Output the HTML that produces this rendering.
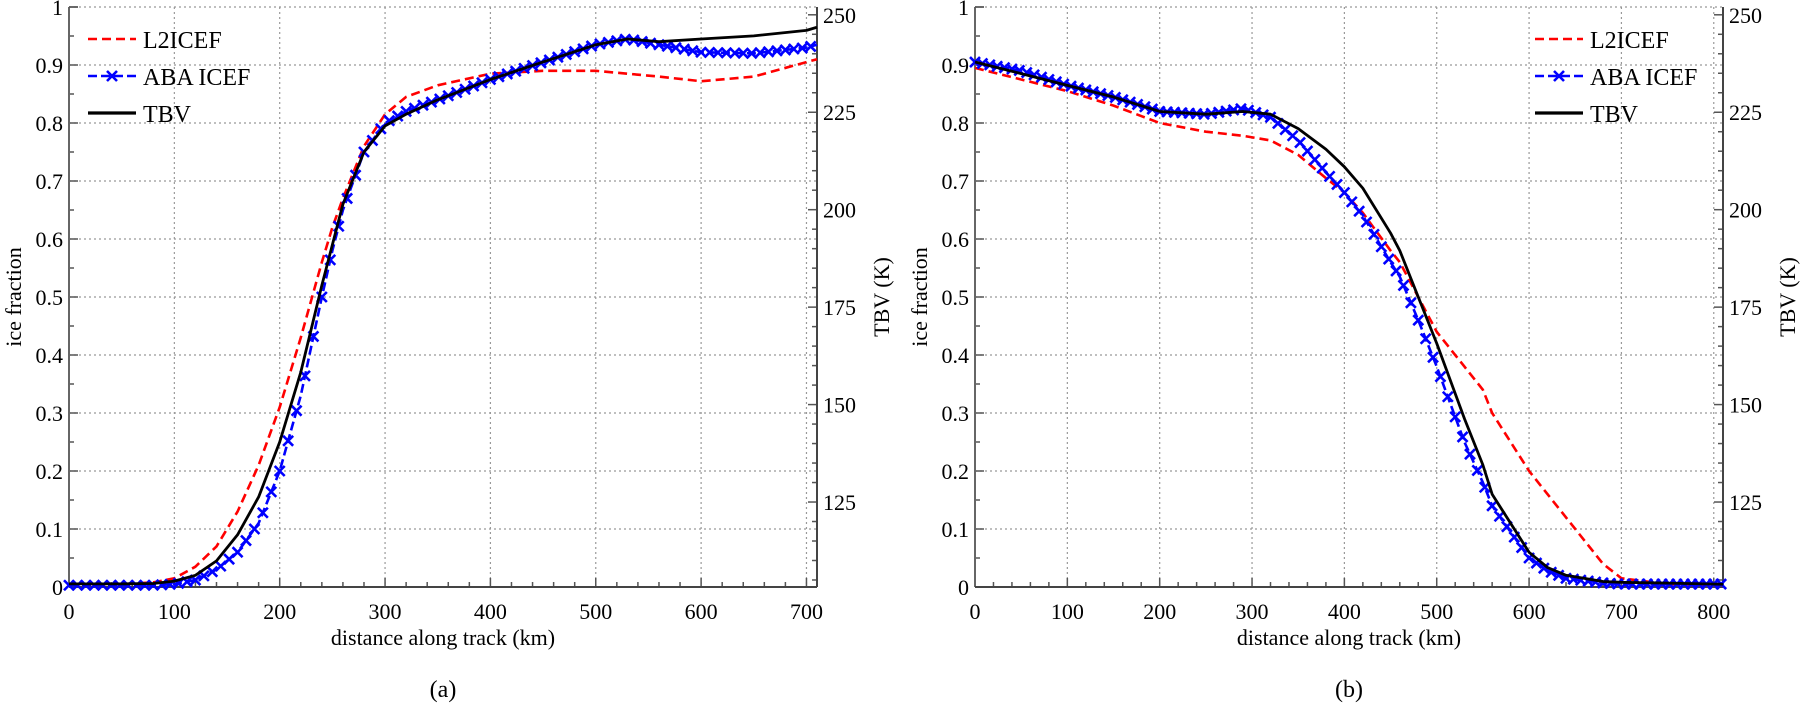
<!DOCTYPE html>
<html><head><meta charset="utf-8"><style>
html,body{margin:0;padding:0;background:#fff;}
svg{display:block;font-family:"Liberation Serif",serif;}
</style></head><body>
<svg id="fig" width="1800" height="710" viewBox="0 0 1800 710"></svg>
<script>
// ---- Data: panel (a)
const aDist = [0,50,80,100,120,140,160,180,200,220,240,250,260,280,300,320,350,400,450,500,530,560,600,650,700,710];
const aL2 =   [0.005,0.005,0.008,0.015,0.035,0.07,0.13,0.21,0.31,0.43,0.56,0.62,0.67,0.76,0.815,0.845,0.865,0.885,0.89,0.89,0.885,0.88,0.872,0.88,0.905,0.91];
const aABA =  [0.003,0.003,0.003,0.005,0.012,0.03,0.06,0.11,0.2,0.33,0.5,0.58,0.65,0.75,0.8,0.82,0.84,0.875,0.905,0.935,0.945,0.935,0.922,0.92,0.93,0.935];
const aTBV =  [104,104,104.1,104.7,106.2,109.9,116.6,126.3,140.4,158.3,180.6,191,201.4,214.8,221.5,224.5,228.2,233.4,237.9,242.3,243.8,243.1,243.8,244.6,246.0,246.8];
// ---- Data: panel (b)
const bDist = [0,50,100,150,200,250,290,320,350,380,400,420,450,460,480,500,530,550,560,600,620,640,680,700,750,810];
const bL2 =   [0.895,0.875,0.855,0.83,0.8,0.785,0.778,0.77,0.745,0.705,0.68,0.645,0.58,0.56,0.5,0.44,0.38,0.34,0.3,0.2,0.16,0.12,0.04,0.015,0.005,0.003];
const bABA =  [0.905,0.89,0.865,0.845,0.82,0.815,0.825,0.81,0.77,0.715,0.68,0.64,0.56,0.535,0.46,0.38,0.25,0.18,0.14,0.05,0.028,0.015,0.007,0.005,0.005,0.005];
const bTBV =  [237.9,234.9,231.9,228.9,225.2,224.5,225.2,224.5,220.8,215.5,211.0,205.5,194.0,189.5,177.6,165.7,146.4,134.5,127.0,112.1,108.2,106.2,104.6,104.4,104.2,103.9];
// ---- Tick labels
const yTicks = [0,0.1,0.2,0.3,0.4,0.5,0.6,0.7,0.8,0.9,1];
const yTickLabels = ["0","0.1","0.2","0.3","0.4","0.5","0.6","0.7","0.8","0.9","1"];
const tbvTicks = [125,150,175,200,225,250];
const aXTicks = [0,100,200,300,400,500,600,700];
const bXTicks = [0,100,200,300,400,500,600,700,800];

const NS="http://www.w3.org/2000/svg";
const svg=document.getElementById('fig');
function mk(tag,attrs,parent){const e=document.createElementNS(NS,tag);for(const k in attrs)e.setAttribute(k,attrs[k]);(parent||svg).appendChild(e);return e;}

function panel(cfg){
  const {x0,x1,y0,y1,xmax,tmin,tmax,dist,l2,aba,tbv,xt,tag,legX,legY} = cfg;
  const g=mk('g',{});
  
  
  const sx=v=>x0+v/xmax*(x1-x0);
  const sy=v=>y1-v*(y1-y0);
  const st=v=>y1-(v-tmin)/(tmax-tmin)*(y1-y0);
  xt.forEach(v=>{ if(v>0) mk('line',{x1:sx(v),x2:sx(v),y1:y0,y2:y1,stroke:'#999','stroke-width':1.2,'stroke-dasharray':'2,3'},g);});
  yTicks.forEach(v=>{ if(v>0) mk('line',{x1:x0,x2:x1,y1:sy(v),y2:sy(v),stroke:'#999','stroke-width':1.2,'stroke-dasharray':'2,3'},g);});
  for(let v=0;v<=xmax;v+=20){const maj=v%100===0;
    mk('line',{x1:sx(v),x2:sx(v),y1:y1,y2:y1-(maj?9:5),stroke:'#555','stroke-width':1.5},g);}
  for(let i=0;i<=20;i++){const v=i*0.05;const maj=i%2===0;
    mk('line',{x1:x0,x2:x0+(maj?9:5),y1:sy(v),y2:sy(v),stroke:'#555','stroke-width':1.5},g);}
  for(let v=105;v<=tmax;v+=5){const maj=v%25===0;
    mk('line',{x1:x1,x2:x1-(maj?9:5),y1:st(v),y2:st(v),stroke:'#555','stroke-width':1.5},g);}
  mk('line',{x1:x0,x2:x0,y1:y0,y2:y1,stroke:'#666','stroke-width':2},g);
  mk('line',{x1:x1,x2:x1,y1:y0,y2:y1,stroke:'#444','stroke-width':2},g);
  mk('line',{x1:x0,x2:x1,y1:y1,y2:y1,stroke:'#444','stroke-width':2},g);
  mk('line',{x1:x0,x2:x0+9,y1:y0,y2:y0,stroke:'#555','stroke-width':1.5},g);
  xt.forEach(v=>{const t=mk('text',{x:sx(v),y:y1+32,'text-anchor':'middle','font-size':22},g);t.textContent=v;
    });
  yTicks.forEach((v,i)=>{const t=mk('text',{x:x0-6,y:sy(v)+8,'text-anchor':'end','font-size':22},g);t.textContent=yTickLabels[i];
    });
  tbvTicks.forEach(v=>{const t=mk('text',{x:x1+6,y:st(v)+8,'text-anchor':'start','font-size':22},g);t.textContent=v;
    });
  let t=mk('text',{x:(x0+x1)/2,y:y1+58,'text-anchor':'middle','font-size':22},g);t.textContent='distance along track (km)';
  
  t=mk('text',{transform:`translate(${x0-48},${(y0+y1)/2}) rotate(-90)`,'text-anchor':'middle','font-size':22},g);t.textContent='ice fraction';
  
  t=mk('text',{transform:`translate(${x1+72},${(y0+y1)/2}) rotate(-90)`,'text-anchor':'middle','font-size':22},g);t.textContent='TBV (K)';
  
  t=mk('text',{x:(x0+x1)/2,y:y1+110,'text-anchor':'middle','font-size':24},g);t.textContent='('+tag+')';
  
  const pts=(arr,f)=>dist.map((d,i)=>sx(d)+','+f(arr[i])).join(' ');
  let p=mk('polyline',{points:pts(l2,sy),fill:'none',stroke:'#ff0000','stroke-width':2.6,'stroke-dasharray':'9,5','stroke-linejoin':'round'},g);
  
  p=mk('polyline',{points:pts(aba,sy),fill:'none',stroke:'#0000ff','stroke-width':2.6,'stroke-dasharray':'9,4','stroke-linejoin':'round'},g);
  
  for(let d=0;d<=dist[dist.length-1];d+=8){
    let j=0;while(j<dist.length-2&&dist[j+1]<d)j++;
    const f=(d-dist[j])/(dist[j+1]-dist[j]);const v=aba[j]+f*(aba[j+1]-aba[j]);
    const cx=sx(d),cy=sy(v),r=5;
    const m=mk('path',{d:`M${cx-r},${cy-r}L${cx+r},${cy+r}M${cx-r},${cy+r}L${cx+r},${cy-r}`,stroke:'#0000ff','stroke-width':2.6},g);
    
  }
  p=mk('polyline',{points:pts(tbv,st),fill:'none',stroke:'#000','stroke-width':2.8,'stroke-linejoin':'round'},g);
  
  const lg=mk('g',{},g);
  
  const ent=[['L2ICEF','#ff0000','9,5'],['ABA ICEF','#0000ff','9,4'],['TBV','#000','']];
  const ys=[legY,legY+37,legY+74];
  ent.forEach((e,i)=>{
    const ge=mk('g',{},lg);
    
    const a={x1:legX,x2:legX+48,y1:ys[i],y2:ys[i],stroke:e[1],'stroke-width':e[2]?2.6:3.2};
    if(e[2])a['stroke-dasharray']=e[2];
    mk('line',a,ge);
    if(i===1){const cx=legX+24,cy=ys[i],r=5;mk('path',{d:`M${cx-r},${cy-r}L${cx+r},${cy+r}M${cx-r},${cy+r}L${cx+r},${cy-r}`,stroke:'#0000ff','stroke-width':2.6},ge);}
    const tx=mk('text',{x:legX+55,y:ys[i]+9,'font-size':24},ge);tx.textContent=e[0];
  });
}
panel({x0:69,x1:817,y0:7,y1:587,xmax:710,tmin:103.2,tmax:252,dist:aDist,l2:aL2,aba:aABA,tbv:aTBV,xt:aXTicks,tag:'a',legX:88,legY:39});
panel({x0:975,x1:1723,y0:7,y1:587,xmax:810,tmin:103.2,tmax:252,dist:bDist,l2:bL2,aba:bABA,tbv:bTBV,xt:bXTicks,tag:'b',legX:1535,legY:39});
</script>
</body></html>
